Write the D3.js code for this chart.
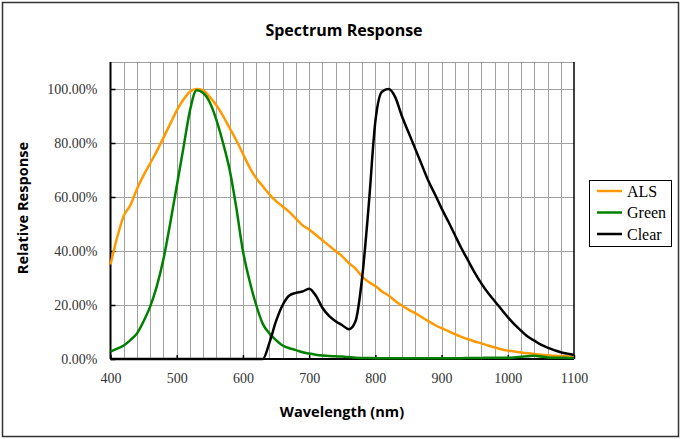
<!DOCTYPE html>
<html>
<head>
<meta charset="utf-8">
<script src="https://cdn.jsdelivr.net/npm/d3@7"></script>
<style>
  body { margin: 0; background: #fff; }
  svg { display: block; }
</style>
</head>
<body>
<div id="chart"></div>
<script>

// ---DATA---//

var wavelengths = [400, 410, 420, 430, 440, 450, 460, 470, 480, 490,
	500, 510, 520, 530, 540, 550, 560, 570, 580, 590,
	600, 610, 620, 630, 640, 650, 660, 670, 680, 690,
	700, 710, 720, 730, 740, 750, 760, 770, 780, 790,
	800, 810, 820, 830, 840, 850, 860, 870, 880, 890,
	900, 910, 920, 930, 940, 950, 960, 970, 980, 990,
	1000, 1010, 1020, 1030, 1040, 1050, 1060, 1070, 1080, 1090, 1100];

var alsValues = [35, 45, 53, 57, 63, 68, 72.5, 77, 82, 87,
	92, 96, 99, 100, 99.5, 97, 94, 90, 85.5, 81,
	76, 71, 67, 64, 61, 58.5, 56.5, 54.5, 52, 49.5,
	48, 46, 44, 42, 40, 38, 35.5, 33.5, 30.5, 28.5,
	27, 25, 23.5, 21.5, 19.8, 18.3, 17, 15.5, 14, 12.6,
	11.4, 10.3, 9.2, 8.2, 7.3, 6.5, 5.8, 5, 4.3, 3.6,
	3.1, 2.8, 2.4, 2.1, 1.9, 1.6, 1.4, 1.2, 1.1, 1.0, 0.8];

var greenValues = [2.7, 3.8, 5, 7, 9.5, 14, 19.5, 27, 37, 50,
	64, 78, 92, 99.5, 98.5, 95, 88.5, 80, 70, 56,
	40, 29, 20, 13, 9.5, 7, 5, 4, 3.3, 2.5,
	2, 1.6, 1.3, 1.1, 1, 0.9, 0.7, 0.5, 0.4, 0.4,
	0.3, 0.3, 0.3, 0.3, 0.3, 0.3, 0.3, 0.3, 0.3, 0.3,
	0.3, 0.3, 0.3, 0.3, 0.4, 0.4, 0.4, 0.5, 0.5, 0.5,
	0.5, 0.6, 0.8, 1.0, 1.2, 0.9, 0.6, 0.5, 0.5, 0.4, 0.4];

var clearValues = [0, 0, 0, 0, 0, 0, 0, 0, 0, 0,
	0, 0, 0, 0, 0, 0, 0, 0, 0, 0,
	0, 0, 0, 0, 6, 14, 20, 23.5, 24.5, 25,
	26, 23.5, 19, 16, 14, 12.5, 11, 14, 30, 57,
	88, 99, 100, 97, 90, 84, 78, 72, 66, 61,
	55.8, 51, 46, 41, 36.5, 32, 28, 24.5, 21.5, 18.5,
	15.5, 12.8, 10.5, 8.3, 6.8, 5.3, 4.2, 3.3, 2.5, 2, 1.5];

var seriesNames = ["ALS", "Green", "Clear"];
var seriesColors = ["#ff9900", "#008000", "#000000"];

var xTicks = [400, 500, 600, 700, 800, 900, 1000, 1100];
var yTicks = [0, 20, 40, 60, 80, 100];

// ---LAYOUT---//

var width = 681;
var height = 439;

var plot = {
	left : 110.5,
	right : 574,
	top : 62,
	bottom : 359
};

var serif = "'Liberation Serif', 'Times New Roman', serif";
var sansBold = "'Open Sans', 'Liberation Sans', sans-serif";

var svg = d3.select("#chart").append("svg")
	.attr("width", width)
	.attr("height", height);

// outer frame
svg.append("rect")
	.attr("x", 2.5).attr("y", 2.5)
	.attr("width", 676).attr("height", 434)
	.attr("fill", "#fff")
	.attr("stroke", "#333")
	.attr("stroke-width", 1.5);

var x = d3.scaleLinear().domain([400, 1100]).range([plot.left, plot.right]);
var y = d3.scaleLinear().domain([0, 110]).range([plot.bottom, plot.top]);

// ---GRID---//

var grid = svg.append("g").attr("class", "grid");

grid.selectAll(".vgrid").data(d3.range(420, 1100, 20)).enter().append("line")
	.attr("class", "vgrid")
	.attr("x1", function(d) { return Math.round(x(d)) + 0.5; })
	.attr("x2", function(d) { return Math.round(x(d)) + 0.5; })
	.attr("y1", plot.top)
	.attr("y2", plot.bottom)
	.attr("stroke", "#a0a0a0")
	.attr("stroke-width", 1);

grid.selectAll(".hgrid").data([20, 40, 60, 80, 100, 110]).enter().append("line")
	.attr("class", "hgrid")
	.attr("x1", plot.left)
	.attr("x2", plot.right)
	.attr("y1", function(d) { return Math.round(y(d)) + 0.5; })
	.attr("y2", function(d) { return Math.round(y(d)) + 0.5; })
	.attr("stroke", "#a0a0a0")
	.attr("stroke-width", 1.2);

// ---AXES---//

var xAxis = d3.axisBottom(x).tickValues(xTicks).tickSize(-4).tickPadding(14)
	.tickFormat(d3.format("d"));
var yAxis = d3.axisLeft(y).tickValues(yTicks).tickSize(-5).tickPadding(13)
	.tickFormat(function(d) { return d.toFixed(2) + "%"; });

var gx = svg.append("g")
	.attr("transform", "translate(0," + plot.bottom + ")")
	.call(xAxis);
var gy = svg.append("g")
	.attr("transform", "translate(" + plot.left + ",0)")
	.call(yAxis);

[gx, gy].forEach(function(g) {
	g.attr("font-family", serif).attr("font-size", 14);
	g.select(".domain").remove();
	g.selectAll(".tick line").attr("stroke", "#000").attr("stroke-width", 1.5);
	g.selectAll(".tick text")
		.attr("fill", "#333")
		.style("font-family", serif)
		.style("font-size", "14px");
});

// right border and axis lines
svg.append("line")
	.attr("x1", plot.right).attr("x2", plot.right)
	.attr("y1", plot.top).attr("y2", plot.bottom)
	.attr("stroke", "#000").attr("stroke-width", 1.5);
svg.append("line")
	.attr("x1", plot.left).attr("x2", plot.left)
	.attr("y1", plot.top).attr("y2", plot.bottom)
	.attr("stroke", "#000").attr("stroke-width", 2);
svg.append("line")
	.attr("x1", plot.left).attr("x2", plot.right)
	.attr("y1", plot.bottom).attr("y2", plot.bottom)
	.attr("stroke", "#000").attr("stroke-width", 2);

// ---LINES---//

var allSeries = [alsValues, greenValues, clearValues];

var line = d3.line()
	.x(function(d, i) { return x(wavelengths[i]); })
	.y(function(d) { return y(d); })
	.curve(d3.curveMonotoneX);

svg.append("g").attr("class", "lines")
	.selectAll("path").data(allSeries).enter().append("path")
	.attr("d", line)
	.attr("fill", "none")
	.attr("stroke", function(d, i) { return seriesColors[i]; })
	.attr("stroke-width", 2.5)
	.attr("stroke-linejoin", "round");

// ---TITLES---//

svg.append("text")
	.attr("x", 344).attr("y", 36)
	.attr("text-anchor", "middle")
	.style("font-family", sansBold)
	.style("font-weight", "bold")
	.style("font-size", "16px")
	.text("Spectrum Response");

svg.append("text")
	.attr("x", 342).attr("y", 417)
	.attr("text-anchor", "middle")
	.style("font-family", sansBold)
	.style("font-weight", "bold")
	.style("font-size", "14.6px")
	.text("Wavelength (nm)");

svg.append("text")
	.attr("transform", "translate(28,208) rotate(-90)")
	.attr("text-anchor", "middle")
	.style("font-family", sansBold)
	.style("font-weight", "bold")
	.style("font-size", "14.6px")
	.text("Relative Response");

// ---LEGEND---//

var legend = svg.append("g").attr("class", "legend");

legend.append("rect")
	.attr("x", 589.5).attr("y", 180.5)
	.attr("width", 82).attr("height", 66)
	.attr("fill", "#fff")
	.attr("stroke", "#000")
	.attr("stroke-width", 1);

var entries = legend.selectAll(".entry").data(seriesNames).enter().append("g")
	.attr("class", "entry")
	.attr("transform", function(d, i) { return "translate(0," + (191 + i * 21.5) + ")"; });

entries.append("line")
	.attr("x1", 597).attr("x2", 622)
	.attr("y1", 0).attr("y2", 0)
	.attr("stroke", function(d, i) { return seriesColors[i]; })
	.attr("stroke-width", 2.5);

entries.append("text")
	.attr("x", 627).attr("y", 5.5)
	.style("font-family", serif)
	.style("font-size", "16px")
	.text(function(d) { return d; });

</script>
</body>
</html>
